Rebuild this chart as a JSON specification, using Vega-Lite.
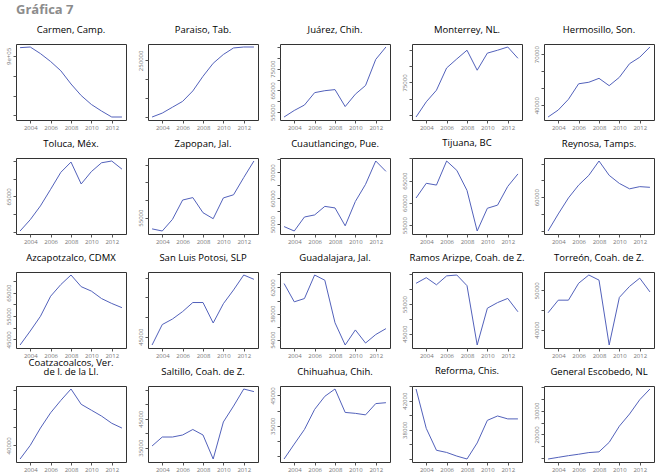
{
"$schema": "https://vega.github.io/schema/vega-lite/v6.json",
"title": {"text": "Gráfica 7", "anchor": "start", "fontSize": 13, "font": "Open Sans", "fontWeight": "bold", "color": "#8c8c8c", "offset": 7, "frame": "group"},
"padding": {"left": 4, "top": 4, "right": 4, "bottom": 0},
"bounds": "flush",
"data": {"values": [
{"c":"Carmen, Camp.","t":2003,"v":941700},{"c":"Carmen, Camp.","t":2004,"v":945000},{"c":"Carmen, Camp.","t":2005,"v":911700},{"c":"Carmen, Camp.","t":2006,"v":871700},{"c":"Carmen, Camp.","t":2007,"v":825000},{"c":"Carmen, Camp.","t":2008,"v":758300},{"c":"Carmen, Camp.","t":2009,"v":700000},{"c":"Carmen, Camp.","t":2010,"v":655000},{"c":"Carmen, Camp.","t":2011,"v":621700},{"c":"Carmen, Camp.","t":2012,"v":591700},{"c":"Carmen, Camp.","t":2013,"v":591700},
{"c":"Paraiso, Tab.","t":2003,"v":100000},{"c":"Paraiso, Tab.","t":2004,"v":110300},{"c":"Paraiso, Tab.","t":2005,"v":125900},{"c":"Paraiso, Tab.","t":2006,"v":141400},{"c":"Paraiso, Tab.","t":2007,"v":169000},{"c":"Paraiso, Tab.","t":2008,"v":207800},{"c":"Paraiso, Tab.","t":2009,"v":242200},{"c":"Paraiso, Tab.","t":2010,"v":265500},{"c":"Paraiso, Tab.","t":2011,"v":282800},{"c":"Paraiso, Tab.","t":2012,"v":285300},{"c":"Paraiso, Tab.","t":2013,"v":285300},
{"c":"Juárez, Chih.","t":2003,"v":52800},{"c":"Juárez, Chih.","t":2004,"v":55800},{"c":"Juárez, Chih.","t":2005,"v":58300},{"c":"Juárez, Chih.","t":2006,"v":64000},{"c":"Juárez, Chih.","t":2007,"v":64900},{"c":"Juárez, Chih.","t":2008,"v":65400},{"c":"Juárez, Chih.","t":2009,"v":57600},{"c":"Juárez, Chih.","t":2010,"v":63300},{"c":"Juárez, Chih.","t":2011,"v":67300},{"c":"Juárez, Chih.","t":2012,"v":79300},{"c":"Juárez, Chih.","t":2013,"v":85000},
{"c":"Monterrey, NL.","t":2003,"v":64300},{"c":"Monterrey, NL.","t":2004,"v":69000},{"c":"Monterrey, NL.","t":2005,"v":72600},{"c":"Monterrey, NL.","t":2006,"v":79500},{"c":"Monterrey, NL.","t":2007,"v":82300},{"c":"Monterrey, NL.","t":2008,"v":85000},{"c":"Monterrey, NL.","t":2009,"v":78800},{"c":"Monterrey, NL.","t":2010,"v":84100},{"c":"Monterrey, NL.","t":2011,"v":85000},{"c":"Monterrey, NL.","t":2012,"v":86000},{"c":"Monterrey, NL.","t":2013,"v":82500},
{"c":"Hermosillo, Son.","t":2003,"v":33100},{"c":"Hermosillo, Son.","t":2004,"v":37200},{"c":"Hermosillo, Son.","t":2005,"v":43500},{"c":"Hermosillo, Son.","t":2006,"v":52600},{"c":"Hermosillo, Son.","t":2007,"v":53500},{"c":"Hermosillo, Son.","t":2008,"v":55800},{"c":"Hermosillo, Son.","t":2009,"v":51500},{"c":"Hermosillo, Son.","t":2010,"v":56400},{"c":"Hermosillo, Son.","t":2011,"v":64400},{"c":"Hermosillo, Son.","t":2012,"v":68200},{"c":"Hermosillo, Son.","t":2013,"v":74200},
{"c":"Toluca, Méx.","t":2003,"v":55200},{"c":"Toluca, Méx.","t":2004,"v":58400},{"c":"Toluca, Méx.","t":2005,"v":62300},{"c":"Toluca, Méx.","t":2006,"v":67000},{"c":"Toluca, Méx.","t":2007,"v":71800},{"c":"Toluca, Méx.","t":2008,"v":74700},{"c":"Toluca, Méx.","t":2009,"v":68500},{"c":"Toluca, Méx.","t":2010,"v":72000},{"c":"Toluca, Méx.","t":2011,"v":74500},{"c":"Toluca, Méx.","t":2012,"v":75000},{"c":"Toluca, Méx.","t":2013,"v":72700},
{"c":"Zapopan, Jal.","t":2003,"v":51800},{"c":"Zapopan, Jal.","t":2004,"v":51200},{"c":"Zapopan, Jal.","t":2005,"v":54500},{"c":"Zapopan, Jal.","t":2006,"v":60000},{"c":"Zapopan, Jal.","t":2007,"v":60700},{"c":"Zapopan, Jal.","t":2008,"v":56400},{"c":"Zapopan, Jal.","t":2009,"v":54700},{"c":"Zapopan, Jal.","t":2010,"v":60600},{"c":"Zapopan, Jal.","t":2011,"v":61500},{"c":"Zapopan, Jal.","t":2012,"v":66400},{"c":"Zapopan, Jal.","t":2013,"v":71100},
{"c":"Cuautlancingo, Pue.","t":2003,"v":49100},{"c":"Cuautlancingo, Pue.","t":2004,"v":47400},{"c":"Cuautlancingo, Pue.","t":2005,"v":52800},{"c":"Cuautlancingo, Pue.","t":2006,"v":53600},{"c":"Cuautlancingo, Pue.","t":2007,"v":56900},{"c":"Cuautlancingo, Pue.","t":2008,"v":56300},{"c":"Cuautlancingo, Pue.","t":2009,"v":49400},{"c":"Cuautlancingo, Pue.","t":2010,"v":58800},{"c":"Cuautlancingo, Pue.","t":2011,"v":65400},{"c":"Cuautlancingo, Pue.","t":2012,"v":74400},{"c":"Cuautlancingo, Pue.","t":2013,"v":70400},
{"c":"Tijuana, BC","t":2003,"v":61100},{"c":"Tijuana, BC","t":2004,"v":64400},{"c":"Tijuana, BC","t":2005,"v":64000},{"c":"Tijuana, BC","t":2006,"v":69400},{"c":"Tijuana, BC","t":2007,"v":67300},{"c":"Tijuana, BC","t":2008,"v":62800},{"c":"Tijuana, BC","t":2009,"v":53700},{"c":"Tijuana, BC","t":2010,"v":58800},{"c":"Tijuana, BC","t":2011,"v":59500},{"c":"Tijuana, BC","t":2012,"v":63700},{"c":"Tijuana, BC","t":2013,"v":66500},
{"c":"Reynosa, Tamps.","t":2003,"v":40000},{"c":"Reynosa, Tamps.","t":2004,"v":50100},{"c":"Reynosa, Tamps.","t":2005,"v":59600},{"c":"Reynosa, Tamps.","t":2006,"v":67200},{"c":"Reynosa, Tamps.","t":2007,"v":73000},{"c":"Reynosa, Tamps.","t":2008,"v":81500},{"c":"Reynosa, Tamps.","t":2009,"v":73000},{"c":"Reynosa, Tamps.","t":2010,"v":68200},{"c":"Reynosa, Tamps.","t":2011,"v":65000},{"c":"Reynosa, Tamps.","t":2012,"v":66300},{"c":"Reynosa, Tamps.","t":2013,"v":65900},
{"c":"Azcapotzalco, CDMX","t":2003,"v":42600},{"c":"Azcapotzalco, CDMX","t":2004,"v":48600},{"c":"Azcapotzalco, CDMX","t":2005,"v":54900},{"c":"Azcapotzalco, CDMX","t":2006,"v":63500},{"c":"Azcapotzalco, CDMX","t":2007,"v":68500},{"c":"Azcapotzalco, CDMX","t":2008,"v":72600},{"c":"Azcapotzalco, CDMX","t":2009,"v":67600},{"c":"Azcapotzalco, CDMX","t":2010,"v":65700},{"c":"Azcapotzalco, CDMX","t":2011,"v":62500},{"c":"Azcapotzalco, CDMX","t":2012,"v":60400},{"c":"Azcapotzalco, CDMX","t":2013,"v":58600},
{"c":"San Luis Potosi, SLP","t":2003,"v":42900},{"c":"San Luis Potosi, SLP","t":2004,"v":48100},{"c":"San Luis Potosi, SLP","t":2005,"v":49500},{"c":"San Luis Potosi, SLP","t":2006,"v":51400},{"c":"San Luis Potosi, SLP","t":2007,"v":53700},{"c":"San Luis Potosi, SLP","t":2008,"v":53700},{"c":"San Luis Potosi, SLP","t":2009,"v":48500},{"c":"San Luis Potosi, SLP","t":2010,"v":53400},{"c":"San Luis Potosi, SLP","t":2011,"v":56900},{"c":"San Luis Potosi, SLP","t":2012,"v":60700},{"c":"San Luis Potosi, SLP","t":2013,"v":59600},
{"c":"Guadalajara, Jal.","t":2003,"v":62600},{"c":"Guadalajara, Jal.","t":2004,"v":59800},{"c":"Guadalajara, Jal.","t":2005,"v":60300},{"c":"Guadalajara, Jal.","t":2006,"v":63900},{"c":"Guadalajara, Jal.","t":2007,"v":63100},{"c":"Guadalajara, Jal.","t":2008,"v":56600},{"c":"Guadalajara, Jal.","t":2009,"v":53200},{"c":"Guadalajara, Jal.","t":2010,"v":55500},{"c":"Guadalajara, Jal.","t":2011,"v":53500},{"c":"Guadalajara, Jal.","t":2012,"v":54800},{"c":"Guadalajara, Jal.","t":2013,"v":55700},
{"c":"Ramos Arizpe, Coah. de Z.","t":2003,"v":62000},{"c":"Ramos Arizpe, Coah. de Z.","t":2004,"v":63900},{"c":"Ramos Arizpe, Coah. de Z.","t":2005,"v":61500},{"c":"Ramos Arizpe, Coah. de Z.","t":2006,"v":64500},{"c":"Ramos Arizpe, Coah. de Z.","t":2007,"v":64800},{"c":"Ramos Arizpe, Coah. de Z.","t":2008,"v":61200},{"c":"Ramos Arizpe, Coah. de Z.","t":2009,"v":41200},{"c":"Ramos Arizpe, Coah. de Z.","t":2010,"v":53600},{"c":"Ramos Arizpe, Coah. de Z.","t":2011,"v":55500},{"c":"Ramos Arizpe, Coah. de Z.","t":2012,"v":56900},{"c":"Ramos Arizpe, Coah. de Z.","t":2013,"v":52400},
{"c":"Torreón, Coah. de Z.","t":2003,"v":44300},{"c":"Torreón, Coah. de Z.","t":2004,"v":47500},{"c":"Torreón, Coah. de Z.","t":2005,"v":47500},{"c":"Torreón, Coah. de Z.","t":2006,"v":51800},{"c":"Torreón, Coah. de Z.","t":2007,"v":53900},{"c":"Torreón, Coah. de Z.","t":2008,"v":52600},{"c":"Torreón, Coah. de Z.","t":2009,"v":36100},{"c":"Torreón, Coah. de Z.","t":2010,"v":48200},{"c":"Torreón, Coah. de Z.","t":2011,"v":51000},{"c":"Torreón, Coah. de Z.","t":2012,"v":53100},{"c":"Torreón, Coah. de Z.","t":2013,"v":49600},
{"c":"Coatzacoalcos, Ver. de I. de la Ll.","t":2003,"v":32600},{"c":"Coatzacoalcos, Ver. de I. de la Ll.","t":2004,"v":40000},{"c":"Coatzacoalcos, Ver. de I. de la Ll.","t":2005,"v":49400},{"c":"Coatzacoalcos, Ver. de I. de la Ll.","t":2006,"v":57700},{"c":"Coatzacoalcos, Ver. de I. de la Ll.","t":2007,"v":64400},{"c":"Coatzacoalcos, Ver. de I. de la Ll.","t":2008,"v":70600},{"c":"Coatzacoalcos, Ver. de I. de la Ll.","t":2009,"v":62300},{"c":"Coatzacoalcos, Ver. de I. de la Ll.","t":2010,"v":59100},{"c":"Coatzacoalcos, Ver. de I. de la Ll.","t":2011,"v":55900},{"c":"Coatzacoalcos, Ver. de I. de la Ll.","t":2012,"v":52000},{"c":"Coatzacoalcos, Ver. de I. de la Ll.","t":2013,"v":49400},
{"c":"Saltillo, Coah. de Z.","t":2003,"v":35600},{"c":"Saltillo, Coah. de Z.","t":2004,"v":38700},{"c":"Saltillo, Coah. de Z.","t":2005,"v":38700},{"c":"Saltillo, Coah. de Z.","t":2006,"v":39400},{"c":"Saltillo, Coah. de Z.","t":2007,"v":41300},{"c":"Saltillo, Coah. de Z.","t":2008,"v":39400},{"c":"Saltillo, Coah. de Z.","t":2009,"v":31100},{"c":"Saltillo, Coah. de Z.","t":2010,"v":43900},{"c":"Saltillo, Coah. de Z.","t":2011,"v":49400},{"c":"Saltillo, Coah. de Z.","t":2012,"v":55300},{"c":"Saltillo, Coah. de Z.","t":2013,"v":54400},
{"c":"Chihuahua, Chih.","t":2003,"v":24100},{"c":"Chihuahua, Chih.","t":2004,"v":29000},{"c":"Chihuahua, Chih.","t":2005,"v":33800},{"c":"Chihuahua, Chih.","t":2006,"v":40400},{"c":"Chihuahua, Chih.","t":2007,"v":44700},{"c":"Chihuahua, Chih.","t":2008,"v":47100},{"c":"Chihuahua, Chih.","t":2009,"v":39400},{"c":"Chihuahua, Chih.","t":2010,"v":39100},{"c":"Chihuahua, Chih.","t":2011,"v":38600},{"c":"Chihuahua, Chih.","t":2012,"v":42300},{"c":"Chihuahua, Chih.","t":2013,"v":42600},
{"c":"Reforma, Chis.","t":2003,"v":43600},{"c":"Reforma, Chis.","t":2004,"v":38200},{"c":"Reforma, Chis.","t":2005,"v":35200},{"c":"Reforma, Chis.","t":2006,"v":34900},{"c":"Reforma, Chis.","t":2007,"v":34400},{"c":"Reforma, Chis.","t":2008,"v":34000},{"c":"Reforma, Chis.","t":2009,"v":36200},{"c":"Reforma, Chis.","t":2010,"v":39300},{"c":"Reforma, Chis.","t":2011,"v":39900},{"c":"Reforma, Chis.","t":2012,"v":39500},{"c":"Reforma, Chis.","t":2013,"v":39500},
{"c":"General Escobedo, NL","t":2003,"v":9700},{"c":"General Escobedo, NL","t":2004,"v":10400},{"c":"General Escobedo, NL","t":2005,"v":11100},{"c":"General Escobedo, NL","t":2006,"v":11700},{"c":"General Escobedo, NL","t":2007,"v":12400},{"c":"General Escobedo, NL","t":2008,"v":12700},{"c":"General Escobedo, NL","t":2009,"v":16700},{"c":"General Escobedo, NL","t":2010,"v":23500},{"c":"General Escobedo, NL","t":2011,"v":28600},{"c":"General Escobedo, NL","t":2012,"v":34600},{"c":"General Escobedo, NL","t":2013,"v":39100}
]},
"facet": {"field": "c", "type": "nominal",
  "sort": ["Carmen, Camp.","Paraiso, Tab.","Juárez, Chih.","Monterrey, NL.","Hermosillo, Son.","Toluca, Méx.","Zapopan, Jal.","Cuautlancingo, Pue.","Tijuana, BC","Reynosa, Tamps.","Azcapotzalco, CDMX","San Luis Potosi, SLP","Guadalajara, Jal.","Ramos Arizpe, Coah. de Z.","Torreón, Coah. de Z.","Coatzacoalcos, Ver. de I. de la Ll.","Saltillo, Coah. de Z.","Chihuahua, Chih.","Reforma, Chis.","General Escobedo, NL"],
  "header": {"title": null, "labelFontSize": 9.5, "labelFont": "Open Sans", "labelColor": "#000", "labelPadding": 0, "labelBaseline": "bottom", "labelLineHeight": 8.5,
    "labelExpr": "datum.value == 'Coatzacoalcos, Ver. de I. de la Ll.' ? ['Coatzacoalcos, Ver.', 'de I. de la Ll.'] : datum.value"}},
"columns": 5,
"spacing": {"row": 38, "column": 22},
"resolve": {"scale": {"y": "independent"}, "axis": {"x": "independent", "y": "independent"}},
"spec": {
  "width": 110, "height": 76,
  "mark": {"type": "line", "color": "#5261bb", "strokeWidth": 1},
  "encoding": {
    "x": {"field": "t", "type": "quantitative", "scale": {"domain": [2002.6, 2013.4], "nice": false},
      "axis": {"values": [2004, 2006, 2008, 2010, 2012], "format": "d", "title": null, "labelPadding": 1}},
    "y": {"field": "v", "type": "quantitative", "scale": {"zero": false, "nice": false, "padding": 3},
      "axis": {"title": null, "tickCount": 5, "labelAngle": -90, "labelAlign": "center", "labelBaseline": "bottom", "format": "d", "labelOverlap": "parity", "labelSeparation": 4, "labelBound": 1,
        "labelExpr": "datum.value >= 500000 ? format(datum.value / 100000, 'd') + 'e+05' : datum.label"}}
  }
},
"config": {
  "view": {"stroke": "#333", "strokeWidth": 1},
  "axis": {"domain": false, "grid": false, "ticks": true, "tickColor": "#555", "tickSize": 3, "labelFontSize": 6, "labelFont": "Open Sans", "labelColor": "#777", "labelPadding": 2}
}
}
